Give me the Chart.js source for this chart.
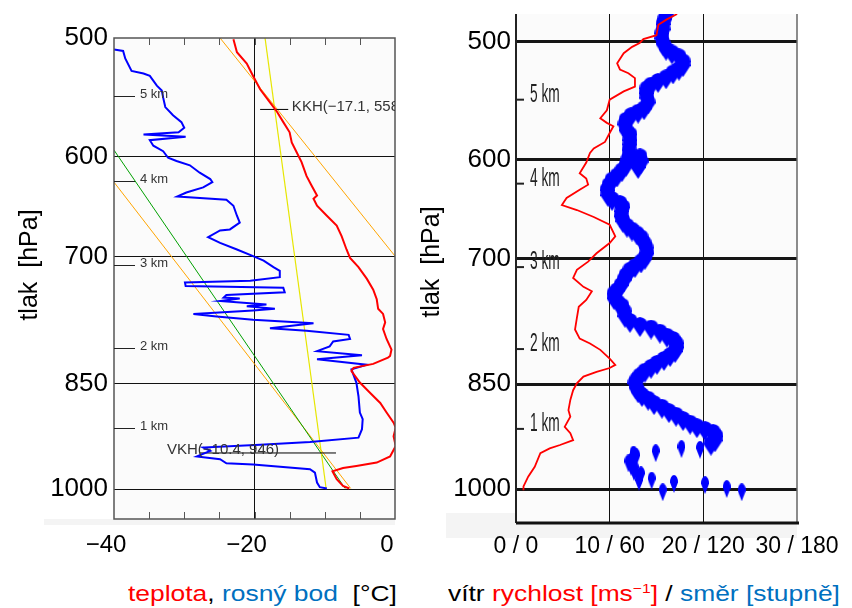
<!DOCTYPE html>
<html>
<head>
<meta charset="utf-8">
<title>Sondáž</title>
<script src="https://cdn.jsdelivr.net/npm/chart.js@4.4.1/dist/chart.umd.min.js"></script>
<style>
  body { margin: 0; background: #fff; font-family: "Liberation Sans", Arial, sans-serif; }
  #page { position: relative; width: 852px; height: 608px; overflow: hidden; }
  canvas { position: absolute; top: 0; }
  #sounding { left: 0; }
  #wind { left: 420px; }
  .caption {
    position: absolute; top: 583px; font-size: 22px; line-height: 22px; white-space: pre; color: #000;
    transform: scaleX(1.2); transform-origin: 0 0;
  }
  .red { color: #ff0000; }
  .blue { color: #0070c0; }
  sup { font-size: 13px; vertical-align: 8px; line-height: 0; }
</style>
</head>
<body>
<div id="page">
  <canvas id="sounding" width="420" height="575" style="width:420px;height:575px"></canvas>
  <canvas id="wind" width="432" height="575" style="width:432px;height:575px"></canvas>
  <div class="caption" style="left:128px"><span class="red">teplota</span>, <span class="blue">rosný bod</span>  [°C]</div>
  <div class="caption" style="left:448px">vítr <span class="red">rychlost [ms<sup>−1</sup>]</span> / <span class="blue">směr [stupně]</span></div>
</div>
<script>
// axis ticks
const pressureTicks = [500, 600, 700, 850, 1000];
const tempTicks = [-40, -35, -30, -25, -20, -15, -10, -5, 0];
const tempLabelled = [-40, -20, 0];
const speedTicks = [0, 10, 20, 30];
const dirTicks = [0, 60, 120, 180];

// height marks [hPa]
const heightPressure = [547, 623, 709, 805, 911];
const heightLabels = ['5 km', '4 km', '3 km', '2 km', '1 km'];

// sounding, [°C, hPa]
const temperature = [
  [-23.0, 501], [-22.5, 511], [-21.1, 520], [-20.2, 530], [-19.2, 541], [-17.8, 552], [-16.8, 560],
  [-15.9, 569], [-15.0, 578], [-14.7, 587], [-14.0, 596], [-13.3, 605], [-12.6, 618], [-11.9, 627],
  [-11.1, 637], [-11.6, 640], [-11.1, 647], [-9.7, 657], [-8.3, 667], [-7.6, 678], [-6.9, 692],
  [-6.4, 701], [-5.2, 711], [-4.0, 724], [-3.1, 736], [-2.6, 747], [-2.4, 758], [-1.7, 764],
  [-1.4, 774], [-1.7, 782], [-1.2, 794], [-0.5, 807], [-0.7, 815], [-1.0, 817], [-3.1, 825],
  [-5.9, 830], [-6.2, 834], [-5.0, 849], [-3.6, 862], [-2.1, 876], [-1.2, 889], [-0.2, 903],
  [0.1, 910], [-0.2, 922], [0.1, 936], [-0.7, 951], [-2.6, 960], [-5.5, 965], [-7.4, 968],
  [-8.9, 973], [-8.3, 985], [-7.4, 995], [-6.5, 999]
];
const dewPoint = [
  [-40.0, 509], [-38.7, 510], [-38.4, 516], [-37.5, 526], [-35.8, 528], [-34.9, 530], [-33.9, 538],
  [-33.2, 542], [-33.0, 548], [-32.7, 556], [-31.6, 563], [-30.4, 569], [-30.0, 574], [-30.8, 578],
  [-35.8, 580], [-29.8, 582], [-34.9, 585], [-34.4, 590], [-33.0, 595], [-32.3, 601], [-31.1, 604],
  [-29.2, 608], [-27.8, 615], [-26.3, 621], [-26.0, 624], [-27.3, 629], [-29.7, 634], [-31.0, 638],
  [-24.0, 641], [-23.0, 647], [-22.5, 657], [-22.1, 664], [-23.5, 671], [-24.9, 672], [-26.6, 679],
  [-24.9, 685], [-22.5, 692], [-20.2, 699], [-18.7, 704], [-17.3, 711], [-16.4, 715], [-16.4, 722],
  [-20.6, 726], [-29.9, 728], [-29.8, 732], [-15.9, 734], [-15.7, 739], [-24.0, 742], [-24.4, 745],
  [-22.1, 746], [-24.9, 749], [-18.3, 753], [-21.1, 755], [-17.1, 758], [-20.2, 760], [-28.7, 764],
  [-25.4, 767], [-20.2, 771], [-11.6, 775], [-17.8, 781], [-12.6, 784], [-6.6, 789], [-6.4, 794],
  [-8.8, 797], [-9.3, 803], [-11.1, 809], [-4.7, 814], [-11.1, 819], [-4.0, 826], [-6.2, 832],
  [-5.5, 849], [-5.2, 867], [-5.0, 889], [-4.6, 898], [-4.7, 912], [-5.2, 924], [-12.1, 930],
  [-19.2, 934], [-27.3, 938], [-26.3, 943], [-28.2, 951], [-24.9, 955], [-24.0, 961], [-20.2, 963],
  [-12.1, 970], [-11.4, 975], [-11.1, 990], [-10.7, 997], [-9.7, 999]
];
const dryAdiabatUpper = [[-24.9, 500], [0, 699]];
const dryAdiabatLower = [[-40, 624], [-6.3, 999]];
const moistAdiabat = [[-40, 594], [-7.1, 999]];
const mixingRatio = [[-18.5, 500], [-9.8, 999]];
const kkh = [-17.1, 558];
const vkh = [-10.4, 946];
const kkhLine = [[-19.2, 558], [-15.2, 558]];
const vkhLine = [[-27.8, 946], [-8.4, 946]];

// wind speed [m/s, hPa]
const windSpeed = [
  [17.2, 479], [16.1, 483], [15.2, 487], [15.0, 495], [13.6, 498], [13.2, 501], [12.4, 504], [11.5, 509],
  [10.8, 517], [11.1, 522], [12.0, 525], [12.7, 529], [12.7, 536], [11.5, 540], [10.0, 547], [9.7, 556],
  [9.0, 563], [9.7, 567], [10.4, 570], [10.0, 576], [9.5, 584], [8.3, 590], [7.9, 594], [7.5, 603],
  [6.8, 613], [7.5, 618], [7.7, 624], [6.8, 629], [5.4, 637], [4.9, 644], [6.5, 649], [8.3, 656],
  [10.0, 664], [10.6, 676], [10.0, 683], [8.6, 694], [7.7, 703], [6.5, 712], [6.1, 721], [7.2, 731],
  [8.1, 736], [7.5, 746], [6.7, 754], [6.5, 767], [6.3, 781], [6.8, 792], [7.9, 798], [9.0, 806],
  [10.0, 817], [10.6, 825], [10.0, 829], [8.6, 834], [7.2, 840], [6.5, 849], [6.1, 858], [5.8, 871],
  [5.6, 885], [5.8, 894], [5.2, 908], [5.8, 917], [6.1, 927], [4.7, 934], [3.6, 939], [2.6, 946],
  [2.0, 966], [1.3, 981], [0.8, 996], [0.8, 1002]
];
// wind direction [deg, hPa], free atmosphere
const windDir = [
  [96.7, 480], [95.4, 484], [94.2, 488], [94.2, 492], [93.5, 495], [93.5, 499], [94.2, 503], [96.1, 507],
  [99.9, 510], [104.4, 513], [107.0, 517], [107.0, 520], [104.4, 523], [100.6, 526], [96.1, 530], [91.0, 533],
  [86.5, 536], [83.9, 539], [83.3, 543], [83.9, 547], [84.6, 551], [82.0, 556], [78.2, 559], [73.7, 562],
  [70.5, 566], [69.8, 570], [70.5, 575], [73.0, 579], [73.0, 584], [73.0, 588], [72.4, 593], [72.4, 598],
  [79.4, 599], [80.1, 604], [78.2, 609], [71.7, 602], [70.5, 607], [67.9, 612], [64.7, 617], [61.5, 621],
  [59.6, 626], [58.3, 631], [58.9, 636], [61.5, 640], [66.6, 644], [68.5, 648], [67.9, 652], [67.3, 657],
  [68.5, 662], [71.1, 667], [74.3, 671], [77.5, 675], [80.1, 679], [82.0, 685], [83.3, 690], [83.9, 696],
  [82.6, 701], [80.1, 705], [76.2, 710], [73.0, 714], [70.5, 720], [69.2, 725], [67.3, 731], [64.7, 737],
  [62.8, 741], [62.8, 746], [65.3, 751], [67.9, 755], [69.2, 761], [69.8, 767], [73.0, 773], [79.4, 778],
  [86.5, 781], [92.2, 786], [96.7, 791], [100.6, 795], [102.5, 800], [103.1, 805], [101.9, 810], [98.7, 815],
  [94.8, 820], [90.3, 825], [86.5, 830], [82.6, 835], [79.4, 841], [77.5, 846], [76.2, 851], [76.9, 857],
  [78.2, 862], [80.7, 867], [84.6, 872], [88.4, 878], [93.5, 883], [98.0, 889], [102.5, 894], [107.0, 900],
  [111.5, 905], [115.9, 910], [121.1, 914], [126.2, 918], [128.1, 924], [127.5, 930], [124.9, 935]
];
// wind direction near the ground, sparse readings
const windDirSurface = [
  [117.9, 941], [106.0, 940], [89.5, 946], [75.3, 948], [77.0, 952], [74.3, 957], [72.0, 961], [73.7, 966],
  [76.0, 970], [75.6, 974], [80.0, 979], [78.8, 983], [78.8, 989], [86.9, 987], [101.2, 992], [94.0, 1005],
  [121.1, 994], [135.0, 1000], [144.6, 1005]
];

Chart.defaults.font.family = '"Liberation Sans", Arial, sans-serif';
Chart.defaults.color = '#000';

const toPoints = arr => arr.map(([x, y]) => ({ x, y }));
const minus = v => String(v).replace('-', '\u2212');

function lineSet(data, color, width) {
  return {
    data: toPoints(data), showLine: true, borderColor: color, borderWidth: width,
    pointRadius: 0, tension: 0
  };
}

function yTitle(ctx, x, y) {
  ctx.save();
  ctx.translate(x, y);
  ctx.rotate(-Math.PI / 2);
  ctx.font = '25px "Liberation Sans", Arial';
  ctx.fillStyle = '#000';
  ctx.textAlign = 'center';
  ctx.textBaseline = 'middle';
  ctx.fillText('tlak  [hPa]', 0, 0);
  ctx.restore();
}

// teardrop marker for the wind direction
function dropMark(w, h) {
  const c = document.createElement('canvas');
  c.width = w;
  c.height = h;
  const g = c.getContext('2d');
  const mid = w / 2, body = h * 0.42;
  g.fillStyle = '#0000ff';
  g.beginPath();
  g.moveTo(mid, 0);
  g.quadraticCurveTo(w, 1, w, body);
  g.lineTo(mid, h);
  g.lineTo(0, body);
  g.quadraticCurveTo(0, 1, mid, 0);
  g.fill();
  return c;
}

// frame, inner ticks, height marks, KKH/VKH labels
const soundingDecor = {
  id: 'soundingDecor',
  beforeDraw(chart) {
    const { ctx, chartArea: a } = chart;
    ctx.save();
    ctx.fillStyle = '#f4f4f4';
    ctx.fillRect(44, a.bottom, a.right - 44, 6);
    ctx.fillStyle = '#fbfbfb';
    ctx.fillRect(a.left, a.top, a.right - a.left, a.bottom - a.top);
    ctx.restore();
  },
  afterDraw(chart) {
    const { ctx, chartArea: a, scales: { x, y } } = chart;
    ctx.save();
    ctx.strokeStyle = '#555';
    ctx.lineWidth = 1.5;
    ctx.strokeRect(a.left, a.top, a.right - a.left, a.bottom - a.top);
    ctx.lineWidth = 1;
    tempTicks.slice(1, -1).forEach(t => {
      const px = Math.round(x.getPixelForValue(t)) + 0.5;
      ctx.beginPath();
      ctx.moveTo(px, a.bottom); ctx.lineTo(px, a.bottom - 7);
      ctx.moveTo(px, a.top); ctx.lineTo(px, a.top + 7);
      ctx.stroke();
    });
    ctx.font = '13px "Liberation Sans", Arial';
    ctx.fillStyle = '#333';
    ctx.strokeStyle = '#222';
    ctx.textBaseline = 'middle';
    heightPressure.forEach((p, i) => {
      const py = Math.round(y.getPixelForValue(p)) + 0.5;
      ctx.beginPath();
      ctx.moveTo(a.left, py); ctx.lineTo(a.left + 21, py);
      ctx.stroke();
      ctx.fillText(heightLabels[i], a.left + 26, py - 2);
    });
    ctx.beginPath();
    ctx.rect(a.left, a.top, a.right - a.left, a.bottom - a.top);
    ctx.clip();
    ctx.font = '15px "Liberation Sans", Arial';
    ctx.fillText(`KKH(${minus(kkh[0])}, ${kkh[1]})`, x.getPixelForValue(kkh[0]) + 17, y.getPixelForValue(kkh[1]) - 3);
    ctx.fillText(`VKH(${minus(vkh[0])}, ${vkh[1]})`, x.getPixelForValue(vkh[0]) - 155, y.getPixelForValue(vkh[1]) - 3);
    ctx.restore();
    yTitle(ctx, 30, 265);
  }
};

const windDecor = {
  id: 'windDecor',
  beforeDraw(chart) {
    const { ctx, chartArea: a } = chart;
    ctx.save();
    ctx.fillStyle = '#f4f4f4';
    ctx.fillRect(26, 513, a.right - 26, 25);
    ctx.fillStyle = '#fbfbfb';
    ctx.fillRect(a.left, a.top, a.right - a.left, a.bottom - a.top);
    ctx.restore();
  },
  afterDraw(chart) {
    const { ctx, chartArea: a, scales: { y } } = chart;
    ctx.save();
    ctx.strokeStyle = '#222';
    ctx.lineWidth = 2;
    ctx.beginPath();
    ctx.moveTo(a.left, a.top); ctx.lineTo(a.left, a.bottom);
    ctx.stroke();
    ctx.strokeStyle = '#666';
    ctx.lineWidth = 1.5;
    ctx.beginPath();
    ctx.moveTo(a.right, a.top); ctx.lineTo(a.right, a.bottom);
    ctx.stroke();
    ctx.strokeStyle = '#111';
    ctx.lineWidth = 3;
    ctx.beginPath();
    ctx.moveTo(a.left, a.bottom); ctx.lineTo(a.right + 2, a.bottom);
    ctx.stroke();
    ctx.fillStyle = '#222';
    ctx.strokeStyle = '#222';
    ctx.lineWidth = 2;
    heightPressure.forEach((p, i) => {
      const py = y.getPixelForValue(p);
      ctx.beginPath();
      ctx.moveTo(a.left, py); ctx.lineTo(a.left + 8, py);
      ctx.stroke();
      ctx.save();
      ctx.translate(a.left + 14, py + 2);
      ctx.scale(0.55, 1);
      ctx.font = '25px "Liberation Sans", Arial';
      ctx.fillText(heightLabels[i], 0, 0);
      ctx.restore();
    });
    ctx.restore();
    yTitle(ctx, 12, 262);
  }
};

const pressureAxis = (min, max, pad, width) => ({
  type: 'logarithmic', reverse: true, min, max,
  afterBuildTicks: s => { s.ticks = pressureTicks.map(value => ({ value })); },
  ticks: { font: { size: 26 }, color: '#000', padding: pad, autoSkip: false, callback: v => String(v) },
  border: { display: false },
  // fixed axis width; labels may reach past the plot edges
  afterFit: s => { s.width = width; s.paddingTop = 0; s.paddingBottom = 0; }
});

// temperature / dew point panel
const leftY = pressureAxis(500, 1047, 6, 114);
leftY.grid = { color: c => (c.tick && c.tick.value === 500) ? 'transparent' : '#111', lineWidth: 1, drawTicks: false };

new Chart(document.getElementById('sounding'), {
  type: 'scatter',
  data: {
    datasets: [
      lineSet(temperature, '#ff0000', 2),
      lineSet(dewPoint, '#0000ff', 2),
      lineSet(kkhLine, '#000', 1),
      lineSet(vkhLine, '#000', 1),
      lineSet(dryAdiabatUpper, '#ffa500', 1),
      lineSet(mixingRatio, '#e6e600', 1.2),
      lineSet(moistAdiabat, '#00a000', 1),
      lineSet(dryAdiabatLower, '#ffa500', 1)
    ]
  },
  options: {
    responsive: false,
    animation: false,
    layout: { padding: { left: 0, top: 38, right: 25, bottom: 0 } },
    plugins: { legend: { display: false }, tooltip: { enabled: false } },
    scales: {
      x: {
        type: 'linear', min: -40, max: 0,
        afterBuildTicks: s => { s.ticks = tempTicks.map(value => ({ value })); },
        ticks: {
          font: { size: 24 }, color: '#000', padding: 12, labelOffset: -8,
          autoSkip: false, maxRotation: 0,
          callback: v => tempLabelled.includes(v) ? minus(v) : ''
        },
        grid: { color: c => (c.tick && c.tick.value === -20) ? '#111' : 'transparent', lineWidth: 1, drawTicks: false },
        border: { display: false },
        afterFit: s => { s.height = 56; }
      },
      y: leftY
    }
  },
  plugins: [soundingDecor]
});

// wind panel: speed and direction share the same width
const rightY = pressureAxis(479, 1054, 5, 96);
rightY.grid = { color: '#151515', lineWidth: 3, drawTicks: false };

const dirPoints = (data, mark) => ({
  data: toPoints(data), xAxisID: 'dir', showLine: false,
  pointStyle: mark, pointRadius: 5, backgroundColor: '#0000ff', borderWidth: 0
});

new Chart(document.getElementById('wind'), {
  type: 'scatter',
  data: {
    datasets: [
      Object.assign(lineSet(windSpeed, '#ff0000', 1.8), { xAxisID: 'x' }),
      dirPoints(windDir, dropMark(15, 20)),
      dirPoints(windDirSurface, dropMark(8, 18))
    ]
  },
  options: {
    responsive: false,
    animation: false,
    layout: { padding: { left: 0, top: 14, right: 55, bottom: 0 } },
    plugins: { legend: { display: false }, tooltip: { enabled: false } },
    scales: {
      x: {
        type: 'linear', min: 0, max: 30,
        afterBuildTicks: s => { s.ticks = speedTicks.map(value => ({ value })); },
        ticks: {
          font: { size: 23 }, color: '#000', padding: 10, autoSkip: false, maxRotation: 0,
          callback: v => `${v} / ${dirTicks[speedTicks.indexOf(v)]}`
        },
        grid: { color: c => (c.tick && (c.tick.value === 10 || c.tick.value === 20)) ? '#111' : 'transparent', lineWidth: 1, drawTicks: false },
        border: { display: false },
        afterFit: s => { s.height = 52; }
      },
      dir: { type: 'linear', position: 'bottom', min: 0, max: 180, display: false },
      y: rightY
    }
  },
  plugins: [windDecor]
});
</script>
</body>
</html>
